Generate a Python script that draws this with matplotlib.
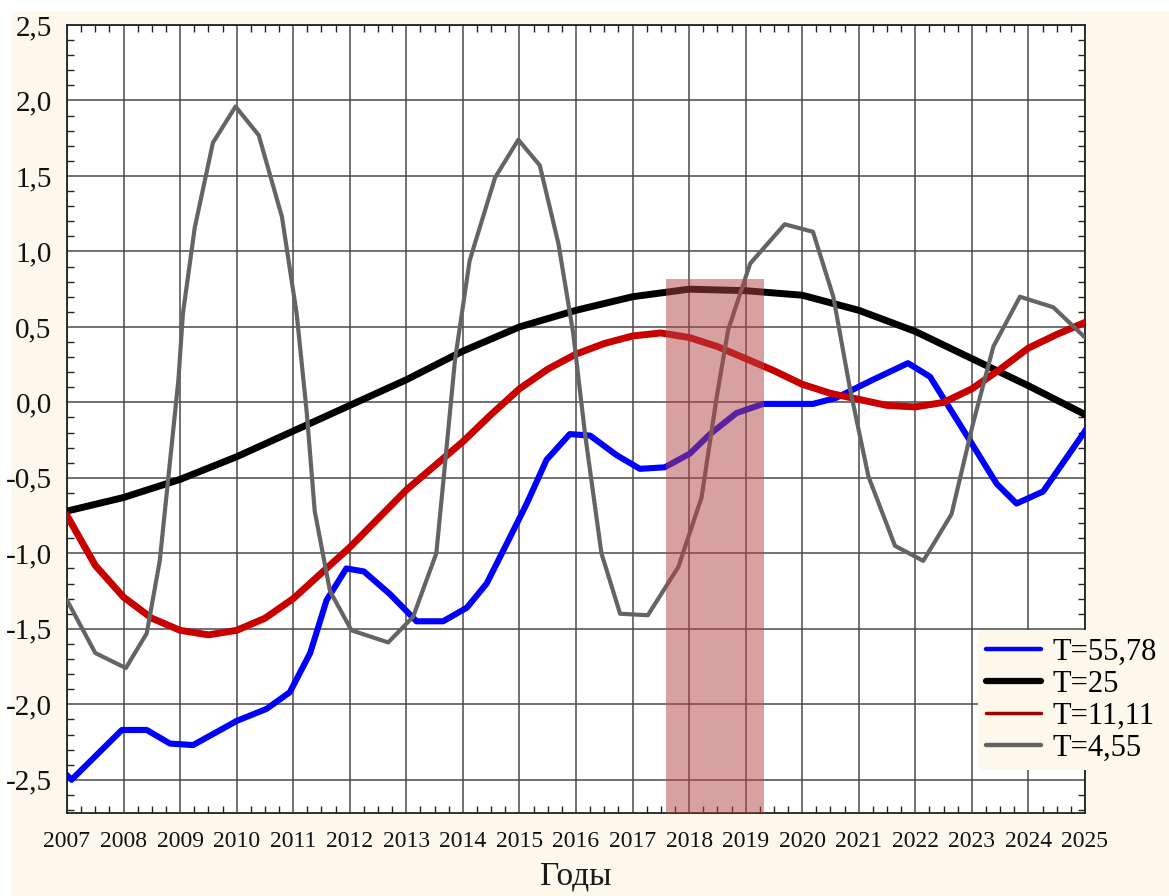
import matplotlib.pyplot as plt
import numpy as np
from matplotlib.ticker import MultipleLocator, FuncFormatter
from matplotlib.patches import Rectangle
from matplotlib.lines import Line2D

# T=55,78 (blue)
blue_x = [2007.0, 2007.08, 2007.97, 2008.41, 2008.82, 2009.23, 2010.0, 2010.53, 2010.94,
          2011.3, 2011.59, 2011.94, 2012.25, 2012.71, 2013.18, 2013.65, 2014.07, 2014.42,
          2014.77, 2015.13, 2015.48, 2015.89, 2016.25, 2016.72, 2017.13, 2017.57, 2018.01,
          2018.37, 2018.84, 2019.31, 2020.19, 2020.6, 2021.25, 2021.87, 2022.26, 2022.96,
          2023.44, 2023.79, 2024.26, 2025.0]
blue_y = [-2.47, -2.50, -2.17, -2.17, -2.26, -2.27, -2.11, -2.03, -1.92,
          -1.66, -1.31, -1.10, -1.12, -1.27, -1.45, -1.45, -1.36, -1.20,
          -0.94, -0.67, -0.38, -0.21, -0.22, -0.35, -0.44, -0.43, -0.34,
          -0.21, -0.07, -0.01, -0.01, 0.03, 0.15, 0.26, 0.17, -0.25,
          -0.54, -0.67, -0.59, -0.19]

# T=25 (black)
black_x = list(range(2007, 2026))
black_y = [-0.72, -0.63, -0.51, -0.36, -0.19, -0.02, 0.15, 0.34, 0.50, 0.61,
           0.70, 0.75, 0.74, 0.71, 0.61, 0.47, 0.29, 0.11, -0.08]

# T=11,11 (red)
red_x = [2007.0 + 0.5 * i for i in range(37)]
red_y = [-0.75, -1.08, -1.29, -1.43, -1.51, -1.54, -1.51, -1.43, -1.30, -1.13,
         -0.96, -0.77, -0.58, -0.42, -0.26, -0.08, 0.09, 0.22, 0.32, 0.39,
         0.44, 0.46, 0.43, 0.37, 0.29, 0.21, 0.12, 0.06, 0.02, -0.02,
         -0.03, 0.00, 0.09, 0.22, 0.36, 0.45, 0.53]

# T=4,55 (gray)
gray_x = [2007.0, 2007.5, 2008.04, 2008.41, 2008.64, 2008.97, 2009.05, 2009.26, 2009.58,
          2009.98, 2010.39, 2010.8, 2011.06, 2011.24, 2011.38, 2011.65, 2012.03, 2012.68,
          2013.12, 2013.53, 2013.65, 2013.86, 2014.12, 2014.57, 2014.98, 2015.36, 2015.69,
          2015.95, 2016.16, 2016.45, 2016.78, 2017.27, 2017.81, 2018.22, 2018.49, 2018.69,
          2019.08, 2019.69, 2020.19, 2020.55, 2020.84, 2021.17, 2021.64, 2022.14, 2022.64,
          2023.02, 2023.38, 2023.85, 2024.44, 2025.0]
gray_y = [-1.31, -1.66, -1.76, -1.53, -1.05, 0.15, 0.59, 1.16, 1.72,
          1.96, 1.77, 1.23, 0.59, -0.07, -0.72, -1.25, -1.51, -1.59,
          -1.42, -1.00, -0.54, 0.28, 0.94, 1.49, 1.74, 1.57, 1.05,
          0.46, -0.21, -1.00, -1.40, -1.41, -1.09, -0.63, 0.04, 0.48,
          0.92, 1.18, 1.13, 0.70, 0.10, -0.49, -0.95, -1.05, -0.74,
          -0.14, 0.37, 0.70, 0.63, 0.43]

labels = ['T=55,78', 'T=25', 'T=11,11', 'T=4,55']
span_x = (2017.6, 2019.32)
span_top = 0.82

cream = '#fdf8ec'
serif = ['Liberation Serif', 'DejaVu Serif']

fig = plt.figure(figsize=(11.69, 8.96), dpi=100, facecolor=cream)
# white border top / left
fig.patches.append(Rectangle((0, 1 - 10 / 896), 1, 10 / 896, transform=fig.transFigure,
                             color='white', zorder=-1))
fig.patches.append(Rectangle((0, 0), 10 / 1169, 1, transform=fig.transFigure,
                             color='white', zorder=-1))

ax = fig.add_axes([67 / 1169, 1 - 813 / 896, (1085 - 67) / 1169, (813 - 25) / 896])
ax.set_facecolor('white')

ax.plot(blue_x, blue_y, color='#0000ff', lw=4.4, zorder=3)
ax.plot(black_x, black_y, color='black', lw=5, zorder=3)
ax.plot(red_x, red_y, color='#c80000', lw=5, zorder=3)
ax.plot(gray_x, gray_y, color='#646464', lw=3, zorder=3)

ax.add_patch(Rectangle((span_x[0], -2.72), span_x[1] - span_x[0], span_top + 2.72,
                       facecolor='#b34444', alpha=0.5, edgecolor='none', zorder=4))

ax.set_xlim(2007, 2025)
ax.set_ylim(-2.72, 2.5)
ax.xaxis.set_major_locator(MultipleLocator(1))
ax.xaxis.set_minor_locator(MultipleLocator(0.25))
ax.yaxis.set_major_locator(MultipleLocator(0.5))
ax.yaxis.set_minor_locator(MultipleLocator(0.1))
ax.yaxis.set_major_formatter(FuncFormatter(lambda v, p: ('%.1f' % v).replace('.', ',')))
ax.grid(True, which='major', color='#4a4a4a', lw=1.1, zorder=1)
ax.set_axisbelow(True)

ax.tick_params(which='both', direction='in', top=True, right=True, colors='#222222')
ax.tick_params(which='major', length=0)
ax.tick_params(which='minor', length=5, width=1)
ax.tick_params(axis='x', which='major', pad=13, labelcolor='#111111')
ax.tick_params(axis='y', which='major', pad=11, labelcolor='#111111')
for lab in ax.get_xticklabels():
    lab.set_fontfamily(serif)
    lab.set_fontsize(17)
for lab in ax.get_yticklabels():
    lab.set_fontfamily(serif)
    lab.set_fontsize(21)
for s in ax.spines.values():
    s.set_color('#222222')
    s.set_linewidth(1.3)

fig.text(576 / 1169, 1 - 876 / 896, 'Годы', ha='center', va='center',
         fontsize=24, family=serif, color='#1a1a1a')

handles = [Line2D([], [], color='#0000ff', lw=3.2, solid_capstyle='round'),
           Line2D([], [], color='black', lw=4.5, solid_capstyle='round'),
           Line2D([], [], color='#a00000', lw=2.5, solid_capstyle='round'),
           Line2D([], [], color='#646464', lw=3.2, solid_capstyle='round')]
leg = fig.legend(handles, labels, loc='upper left',
                 bbox_to_anchor=(978 / 1169, 1 - 630 / 896),
                 prop={'family': serif, 'size': 22}, frameon=True,
                 handlelength=1.8, handletextpad=0.4, labelspacing=0.1,
                 borderpad=0.25, borderaxespad=0)
leg.get_frame().set_facecolor(cream)
leg.get_frame().set_edgecolor('none')
leg.get_frame().set_alpha(1)
leg.set_zorder(10)

fig.savefig('out.png', dpi=100, facecolor=cream)
